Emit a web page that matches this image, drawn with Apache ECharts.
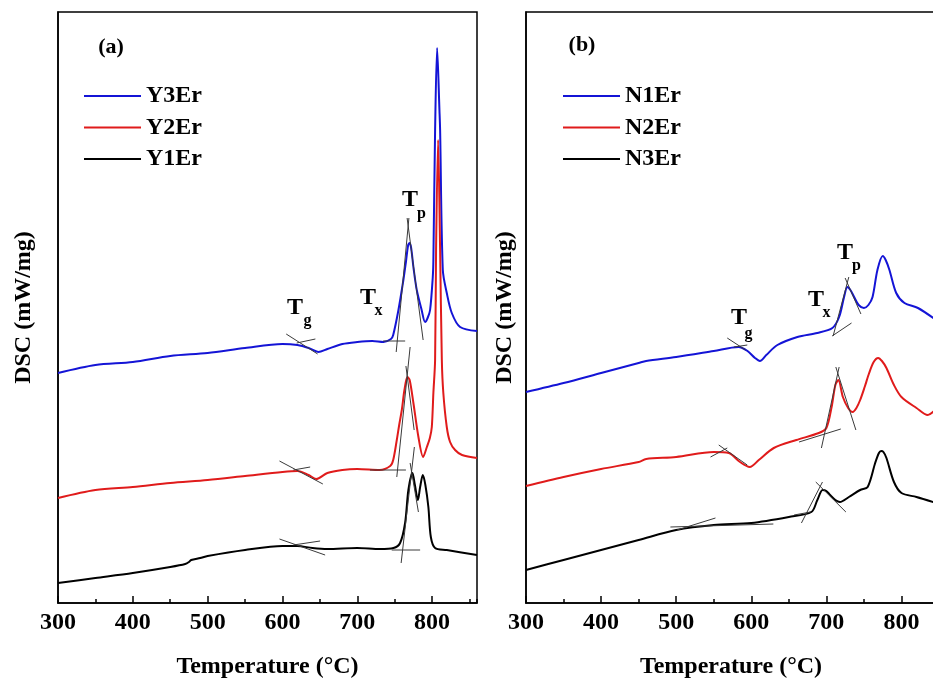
<!DOCTYPE html>
<html><head><meta charset="utf-8">
<script src="https://cdn.jsdelivr.net/npm/echarts@6/dist/echarts.min.js"></script>
<style>html,body{margin:0;padding:0;background:#fff}#c{width:933px;height:678px}</style>
</head><body><div id="c"></div>
<script>
// ---------- Panel (a) data: temperature (°C) and DSC signal (arb. mW/mg offset) ----------
const T_Y3 = [300,350,400,450,500,550,600,620,635,648,660,680,700,720,735,745,748,755,761.6,765,768,770,772,775,779.5,786,790.6,794,797.3,800.9,801.7,804,806.7,809.8,810.7,814.3,819.6,826.3,837.4,860];
const V_Y3 = [2.30,2.38,2.41,2.47,2.50,2.55,2.59,2.58,2.55,2.51,2.54,2.59,2.61,2.62,2.61,2.64,2.68,2.93,3.23,3.41,3.58,3.60,3.55,3.36,3.13,2.93,2.81,2.85,2.93,3.26,3.43,4.73,5.55,4.93,4.73,3.33,3.10,2.90,2.76,2.72];
const T_Y2 = [300,350,400,450,500,550,600,620,635,645,660,680,700,730,744,748,752.8,756,759.5,763,767,770,775,781.7,788,793,797,799.6,801.7,804,805.3,808,810.7,813,815,819.6,824,830.7,840,860];
const V_Y2 = [1.05,1.13,1.16,1.20,1.23,1.27,1.31,1.32,1.28,1.24,1.30,1.33,1.34,1.33,1.37,1.43,1.63,1.78,1.93,2.13,2.26,2.23,2.00,1.66,1.46,1.56,1.65,1.76,2.10,2.43,3.53,4.63,3.53,2.43,2.10,1.76,1.61,1.53,1.48,1.45];
const T_Y1 = [300,350,400,450,470,475,478,490,500,550,600,620,640,660,700,730.5,748.3,757.2,763.9,768.3,773.7,777,781,784,787.6,791,795,798.3,804,819.6,860];
const V_Y1 = [0.20,0.25,0.30,0.36,0.39,0.41,0.43,0.45,0.47,0.53,0.57,0.57,0.55,0.54,0.55,0.54,0.55,0.60,0.80,1.13,1.30,1.18,1.03,1.16,1.28,1.18,0.96,0.66,0.55,0.53,0.48];

// ---------- Panel (b) data ----------
const T_N1 = [300,350,400,450,460,500,550,583,595,605,611.5,620,634.8,661.4,688,708,717,723.6,728,732,737,743,750,756,761.5,768,775,779,784,793,804,822,846];
const V_N1 = [2.11,2.20,2.30,2.40,2.42,2.46,2.52,2.56,2.52,2.45,2.42,2.48,2.58,2.66,2.70,2.75,2.86,3.06,3.16,3.13,3.06,2.98,2.95,2.98,3.06,3.33,3.47,3.43,3.33,3.10,3.00,2.95,2.83];
const T_N2 = [300,350,400,450,460,500,550,570,585,598,610,630,660,690,700,707,712,716,722,729,735,740,745,751,757,763,769,774,780,790,800,820,835,846];
const V_N2 = [1.17,1.26,1.34,1.41,1.44,1.46,1.51,1.50,1.41,1.36,1.43,1.55,1.63,1.70,1.75,1.96,2.18,2.23,2.06,1.95,1.91,1.95,2.03,2.16,2.30,2.41,2.45,2.42,2.35,2.18,2.06,1.95,1.88,1.94];
const T_N3 = [300,350,400,450,500,550,600,650,680,688,695,700,705,712,718,730,745,755,765,770,773,776,780,790,800,820,846];
const V_N3 = [0.33,0.43,0.53,0.63,0.73,0.78,0.80,0.86,0.91,1.03,1.13,1.12,1.08,1.03,1.01,1.06,1.13,1.16,1.40,1.50,1.52,1.51,1.45,1.21,1.10,1.06,1.00];

// ---------- Tangent construction lines [T1, V1, T2, V2] ----------
const TAN_A = [
  [605,2.69,647,2.49],[619,2.60,644,2.64],
  [734.5,2.62,764,2.62],[752,2.51,769,3.85],[766.6,3.85,788,2.63],
  [596,1.42,654,1.19],[614.6,1.33,637,1.36],
  [717,1.33,765,1.33],[752.8,1.26,770.6,2.56],[765,2.37,776,1.73],
  [596,0.64,657,0.48],[614.6,0.58,650.3,0.62],
  [746,0.53,784,0.53],[758.6,0.40,776.3,1.56],[770.6,1.40,781.7,0.91]
];
const TAN_B = [
  [568,2.65,592.4,2.53],[576.8,2.56,594.7,2.58],
  [707.7,2.67,733.5,2.80],[709,2.67,729.9,3.26],[725,3.25,746,2.89],
  [556.7,1.58,594.6,1.38],[545.7,1.46,568,1.55],
  [663.6,1.61,719.2,1.74],[693.4,1.55,717,2.36],[712.6,2.36,739.3,1.73],
  [492.3,0.76,629.4,0.79],[501.2,0.73,552.3,0.85],
  [657,0.88,679,0.91],[666.8,0.80,694.8,1.21],[685.9,1.21,726,0.91]
];

const NAMES_A = ['Y3Er','Y2Er','Y1Er'];
const NAMES_B = ['N1Er','N2Er','N3Er'];
const X_TICKS = [300,400,500,600,700,800];

const FONT = "'Liberation Serif','Times New Roman',serif";
const BLUE = '#1414d6', RED = '#e01b1b', BLACK = '#000000';

function zip(t, v){ return t.map((x,i)=>[x, v[i]]); }

const chart = echarts.init(document.getElementById('c'), null, {renderer:'canvas'});

const grids = [
  {left:58, right:456, top:12, bottom:75, show:true, borderColor:'#000', borderWidth:1.5, containLabel:false, outerBoundsMode:'none'},
  {left:526, right:-3, top:12, bottom:75, show:true, borderColor:'#000', borderWidth:1.5, containLabel:false, outerBoundsMode:'none'}
];

function majorX(gi, max){
  return {type:'value', gridIndex:gi, min:300, max:max, interval:100, position:'bottom',
    axisLine:{show:true, lineStyle:{color:'#000', width:1.5}},
    axisTick:{show:true, inside:true, length:7, lineStyle:{color:'#000', width:1.5}},
    axisLabel:{show:true, margin:8, color:'#000', fontFamily:FONT, fontWeight:'bold', fontSize:24,
      showMaxLabel:false, formatter:v=> X_TICKS.includes(v) ? String(v) : ''},
    splitLine:{show:false},
    name:'Temperature (\u00B0C)', nameLocation:'middle', nameGap:52,
    nameTextStyle:{color:'#000', fontFamily:FONT, fontWeight:'bold', fontSize:24}
  };
}
function minorX(gi, max){
  return {type:'value', gridIndex:gi, min:300, max:max, interval:50, position:'bottom',
    axisLine:{show:false}, axisLabel:{show:false}, splitLine:{show:false},
    axisTick:{show:true, inside:true, length:4, lineStyle:{color:'#000', width:1.5}}};
}
function yAx(gi, gap){
  return {type:'value', gridIndex:gi, min:0, max:5.91,
    axisLine:{show:true, lineStyle:{color:'#000', width:1.5}}, axisTick:{show:false}, axisLabel:{show:false}, splitLine:{show:false},
    name:'DSC (mW/mg)', nameLocation:'middle', nameGap:gap, nameRotate:90,
    nameTextStyle:{color:'#000', fontFamily:FONT, fontWeight:'bold', fontSize:24}};
}

const series = [];
function addCurve(name, t, v, color, xi, yi){
  series.push({name, type:'line', xAxisIndex:xi, yAxisIndex:yi, data:zip(t,v), symbol:'none', showSymbol:false,
    smooth:0.3, lineStyle:{color, width:2}, itemStyle:{color}, z:2, silent:true});
}
addCurve('Y3Er', T_Y3, V_Y3, BLUE, 0, 0);
addCurve('Y2Er', T_Y2, V_Y2, RED, 0, 0);
addCurve('Y1Er', T_Y1, V_Y1, BLACK, 0, 0);
addCurve('N1Er', T_N1, V_N1, BLUE, 2, 1);
addCurve('N2Er', T_N2, V_N2, RED, 2, 1);
addCurve('N3Er', T_N3, V_N3, BLACK, 2, 1);
TAN_A.forEach((s,i)=>series.push({type:'line', name:'tanA'+i, xAxisIndex:0, yAxisIndex:0, data:[[s[0],s[1]],[s[2],s[3]]],
  symbol:'none', lineStyle:{color:'#3a3a3a', width:1}, z:3, silent:true}));
TAN_B.forEach((s,i)=>series.push({type:'line', name:'tanB'+i, xAxisIndex:2, yAxisIndex:1, data:[[s[0],s[1]],[s[2],s[3]]],
  symbol:'none', lineStyle:{color:'#3a3a3a', width:1}, z:3, silent:true}));

function legend(names, left){
  return {data:names, orient:'vertical', left:left, top:79, itemWidth:57, itemHeight:2, itemGap:7.5,
    icon:'path://M0,0H60V2H0Z', selectedMode:false,
    textStyle:{color:'#000', fontFamily:FONT, fontWeight:'bold', fontSize:24}};
}

function txt(text, x, y, size){
  return {type:'text', x:x, y:y, silent:true, style:{text, fill:'#000', font:'bold '+size+'px '+FONT, textAlign:'center', textVerticalAlign:'middle'}};
}

const option = {
  animation:false, backgroundColor:'#fff',
  grid:grids,
  xAxis:[majorX(0,860), minorX(0,860), majorX(1,846), minorX(1,846)],
  yAxis:[yAx(0,22), yAx(1,9)],
  legend:[legend(NAMES_A, 79), legend(NAMES_B, 558)],
  series,
  graphic:[
    txt('(a)',111,47,22), txt('(b)',582,45,22),
    txt('T',295,308,24), txt('g',307.5,321,16),
    txt('T',368,298,24), txt('x',378.5,311,16),
    txt('T',410,200,24), txt('p',421.5,214,16),
    txt('T',739,318,24), txt('g',748.5,334,16),
    txt('T',816,300,24), txt('x',826.5,313,16),
    txt('T',845,253,24), txt('p',856.5,266,16)
  ]
};
chart.setOption(option);
</script></body></html>
